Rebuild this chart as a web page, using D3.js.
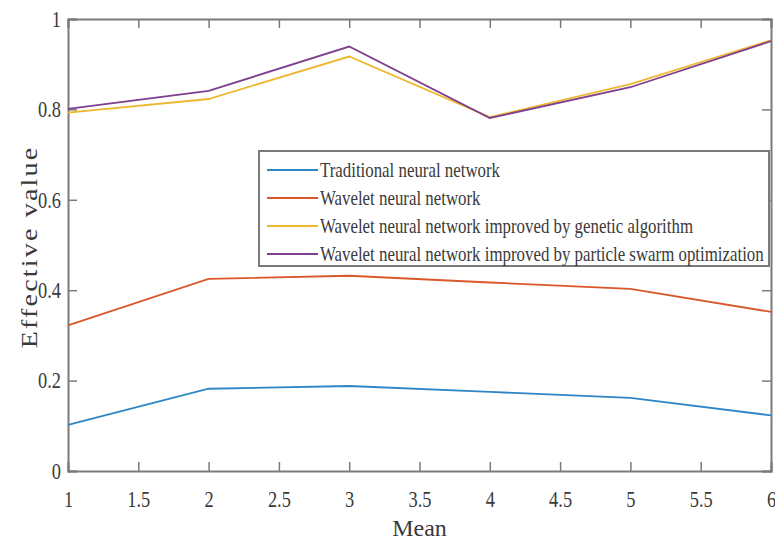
<!DOCTYPE html>
<html>
<head>
<meta charset="utf-8">
<script src="https://cdn.jsdelivr.net/npm/d3@7"></script>
<style>
  body { margin: 0; background: #fff; }
  text { font-family: "Liberation Serif", "Times New Roman", serif; fill: #3a3a3a; }
</style>
</head>
<body>
<div id="viz"></div>
<script>
const xValues = [1, 2, 3, 4, 5, 6];
const seriesNames = [
    "Traditional neural network",
    "Wavelet neural network",
    "Wavelet neural network improved by genetic algorithm",
    "Wavelet neural network improved by particle swarm optimization"
];
const traditional = [0.102, 0.182, 0.188, 0.175, 0.162, 0.123];
const wavelet = [0.322, 0.425, 0.432, 0.417, 0.403, 0.352];
const waveletGA = [0.793, 0.823, 0.917, 0.783, 0.856, 0.953];
const waveletPSO = [0.801, 0.841, 0.939, 0.781, 0.849, 0.951];
const colors = ["#2f86c6", "#d9572a", "#eeb82e", "#7e3f8e"];
const xTicks = [1, 1.5, 2, 2.5, 3, 3.5, 4, 4.5, 5, 5.5, 6];
const yTicks = [0, 0.2, 0.4, 0.6, 0.8, 1];

const W = 775, H = 548;
const margin = {top: 19, right: 4, bottom: 77, left: 68},
    width = W - margin.left - margin.right,
    height = H - margin.top - margin.bottom;

const svg = d3.select("#viz")
    .append("svg")
        .attr("width", W)
        .attr("height", H);

const g = svg.append("g")
    .attr("transform", `translate(${margin.left},${margin.top})`);

const x = d3.scaleLinear().domain([1, 6]).range([0, width]);
const y = d3.scaleLinear().domain([0, 1]).range([height, 0]);

const axisColor = "#7a7a7a";
const serif = "'Liberation Serif', 'Times New Roman', serif";

// box + inward ticks on all four sides
const fmt = d => d3.format("")(d);
const xb = g.append("g").attr("transform", `translate(0,${height})`)
    .call(d3.axisBottom(x).tickValues(xTicks).tickSize(-9).tickPadding(23).tickFormat(fmt));
const xt = g.append("g")
    .call(d3.axisTop(x).tickValues(xTicks).tickSize(-9).tickFormat(""));
const yl = g.append("g")
    .call(d3.axisLeft(y).tickValues(yTicks).tickSize(-9).tickPadding(7).tickFormat(fmt));
const yr = g.append("g").attr("transform", `translate(${width},0)`)
    .call(d3.axisRight(y).tickValues(yTicks).tickSize(-9).tickFormat(""));

[xb, xt, yl, yr].forEach(a => {
    a.attr("font-family", serif);
    a.select(".domain").attr("stroke", axisColor).attr("stroke-width", 2);
    a.selectAll(".tick line").attr("stroke", axisColor).attr("stroke-width", 1.5);
});

// tick labels: tall, narrow digits like the original
xb.selectAll(".tick text")
    .attr("font-size", 23)
    .attr("fill", "#3a3a3a")
    .attr("dy", "0.55em")
    .attr("transform", "scale(0.8,1)");
yl.selectAll(".tick text")
    .attr("font-size", 23)
    .attr("fill", "#3a3a3a")
    .attr("dy", "0.32em")
    .attr("x", -7 / 0.8)
    .attr("transform", "scale(0.8,1)");

// lines
const allSeries = [traditional, wavelet, waveletGA, waveletPSO];
const line = d3.line()
    .x((d, i) => x(xValues[i]))
    .y(d => y(d));

g.selectAll(".series")
    .data(allSeries)
    .enter()
    .append("path")
        .attr("class", "series")
        .attr("fill", "none")
        .attr("stroke", (d, i) => colors[i])
        .attr("stroke-width", 1.8)
        .attr("d", line);

// legend
const legend = g.append("g").attr("transform", `translate(${259 - margin.left},${151 - margin.top})`);
legend.append("rect")
    .attr("width", 510).attr("height", 115)
    .attr("fill", "#fff")
    .attr("stroke", axisColor).attr("stroke-width", 2);

const rows = legend.selectAll(".row")
    .data(seriesNames)
    .enter()
    .append("g")
        .attr("class", "row")
        .attr("transform", (d, i) => `translate(0,${19 + i * 28})`);

rows.append("line")
    .attr("x1", 8).attr("x2", 59)
    .attr("stroke", (d, i) => colors[i])
    .attr("stroke-width", 1.8);

const legendText = rows.append("text")
    .attr("x", 0)
    .attr("dy", "0.35em")
    .attr("font-size", 21)
    .text(d => d);

// squeeze legend text so the longest row spans the box like the original
const longest = d3.max(legendText.nodes(), n => n.getComputedTextLength());
const sx = 444 / longest;
legendText.attr("transform", `translate(61,0) scale(${sx},1)`);

// axis titles
svg.append("text")
    .attr("x", margin.left + width / 2)
    .attr("y", 536)
    .attr("text-anchor", "middle")
    .attr("font-size", 24)
    .text("Mean");

svg.append("text")
    .attr("transform", `translate(37,${margin.top + height / 2 + 2}) rotate(-90) scale(1,0.85)`)
    .attr("text-anchor", "middle")
    .attr("font-size", 28)
    .attr("letter-spacing", 2.2)
    .text("Effective value");
</script>
</body>
</html>
